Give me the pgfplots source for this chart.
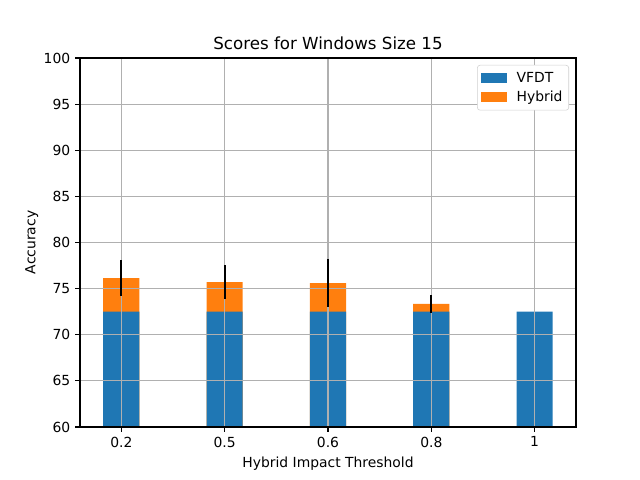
\documentclass[border=0pt]{standalone}
\usepackage{pgfplots}
\pgfplotsset{compat=1.18}
\usepackage{fontspec}
\setmainfont{DejaVu Sans}
\definecolor{cA}{HTML}{1F77B4}
\definecolor{cB}{HTML}{FF7F0E}
\definecolor{gridc}{HTML}{B0B0B0}
\begin{document}
\begin{tikzpicture}
\useasboundingbox (0,0) rectangle (460.8pt,345.6pt);
\begin{axis}[
  at={(57.6pt,38.16pt)}, anchor=south west,
  scale only axis, width=357.12pt, height=265.68pt,
  ybar, bar width=0.35, bar shift=0pt,
  xmin=-0.4, xmax=4.4, ymin=60, ymax=100,
  xtick={0,1,2,3,4}, xticklabels={0.2,0.5,0.6,0.8,1},
  ytick={60,65,70,75,80,85,90,95,100},
  /pgf/number format/assume math mode=true,
  tick label style={font=\fontsize{10}{12}\selectfont},
  label style={font=\fontsize{10}{12}\selectfont},
  ylabel style={yshift=-3pt},
  title style={font=\fontsize{12}{14}\selectfont, yshift=-3.5pt},
  title={Scores for Windows Size 15},
  xlabel={Hybrid Impact Threshold},
  ylabel={Accuracy},
  grid=major, major grid style={gridc, line width=0.8pt},
  axis line style={black, line width=0.8pt},
  tick style={black, line width=0.8pt},
  tick align=outside, major tick length=3.5pt,
  xtick pos=bottom, ytick pos=left,
  axis on top,
  legend style={at={(1,1)}, xshift=-5pt, yshift=-5pt, anchor=north east, draw=gridc!60, rounded corners=2pt,
    font=\fontsize{10}{12}\selectfont, row sep=0.5pt, inner xsep=2.5pt, inner ysep=3pt,
    nodes={inner xsep=2pt},
    /tikz/every odd column/.append style={column sep=4.6pt}},
  legend cell align=left,
  legend image code/.code={\fill[#1, sharp corners] (0pt,-3.6pt) rectangle (19.2pt,3.6pt);},
]
\addplot[fill=cB, draw=none, forget plot] coordinates {(0,76.15) (1,75.7) (2,75.6) (3,73.35)};
\addplot[fill=cA, draw=none] coordinates {(0,72.5) (1,72.5) (2,72.5) (3,72.5) (4,72.5)};
\addlegendentry{VFDT}
\addlegendimage{fill=cB, draw=none}
\addlegendentry{Hybrid}
\end{axis}
\begin{axis}[
  at={(57.6pt,38.16pt)}, anchor=south west,
  scale only axis, width=357.12pt, height=265.68pt,
  xmin=-0.4, xmax=4.4, ymin=60, ymax=100,
  hide axis,
]
\addplot[draw=none, mark=none, forget plot,
  error bars/.cd, y dir=both, y explicit,
  error bar style={draw=black, line width=1.5pt, solid}, error mark=none]
  coordinates {(0,76.15) +- (0,2.0) (1,75.7) +- (0,1.84) (2,75.6) +- (0,2.6) (3,73.35) +- (0,0.95)};
\end{axis}
\end{tikzpicture}
\end{document}
